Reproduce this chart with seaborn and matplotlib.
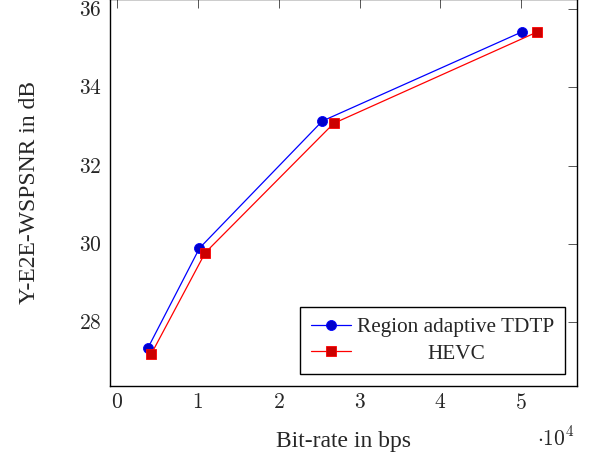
import pandas as pd
import matplotlib
matplotlib.use("Agg")
import matplotlib.pyplot as plt
import seaborn as sns

# values (bit-rate in bps, PSNR in dB)
tdtp_rate = [3830, 10200, 25400, 50100]
tdtp_psnr = [27.34, 29.89, 33.14, 35.42]
hevc_rate = [4250, 10900, 26800, 51900]
hevc_psnr = [27.19, 29.77, 33.08, 35.41]
series_names = ["Region adaptive TDTP", "HEVC"]
x_ticks = [0, 1, 2, 3, 4, 5]
y_ticks = [28, 30, 32, 34, 36]

sns.set_style("white")
plt.rcParams["font.family"] = ["Liberation Serif", "DejaVu Serif"]
plt.rcParams["mathtext.fontset"] = "cm"

df = pd.concat([
    pd.DataFrame({"rate": tdtp_rate, "psnr": tdtp_psnr, "method": series_names[0]}),
    pd.DataFrame({"rate": hevc_rate, "psnr": hevc_psnr, "method": series_names[1]}),
])
df["rate"] = df["rate"] / 1e4

fig = plt.figure(figsize=(5.89, 4.57), dpi=100)
ax = fig.add_axes([110 / 589, 1 - 386 / 457, 467 / 589, 387 / 457])

line_cols = {series_names[0]: "#0000ff", series_names[1]: "#ff0000"}
fill_cols = {series_names[0]: "#0000cc", series_names[1]: "#cc0000"}
sns.lineplot(data=df, x="rate", y="psnr", hue="method", style="method",
             hue_order=series_names, style_order=series_names,
             palette=line_cols, markers={series_names[0]: "o", series_names[1]: "s"},
             dashes=False, sort=False, legend=False, linewidth=0.9, ax=ax)

for line, name in zip(ax.lines, series_names):
    line.set_markerfacecolor(fill_cols[name])
    line.set_markeredgecolor(line_cols[name])
    line.set_markeredgewidth(0.6)
    line.set_markersize(7.2)

ax.set_xlim(-0.087, 5.69)
ax.set_ylim(26.365, 36.26)
ax.set_xticks(x_ticks)
ax.set_xticklabels([f"${v}$" for v in x_ticks])
ax.set_yticks(y_ticks)
ax.set_yticklabels([f"${v}$" for v in y_ticks])
ax.tick_params(which="both", direction="in", top=True, right=True,
               length=6.5, width=0.7, color="#555555", labelsize=15.5, pad=6)

for s in ax.spines.values():
    s.set_color("black")
    s.set_linewidth(1.0)

ax.set_xlabel("Bit-rate in bps", fontsize=17, labelpad=12)
ax.set_ylabel("Y-E2E-WSPSNR in dB", fontsize=17)
ax.yaxis.set_label_coords(-0.15, 0.5)
ax.text(0.995, -0.105, r"$\cdot10^{4}$", transform=ax.transAxes,
        ha="right", va="top", fontsize=15.5)

leg = ax.legend(handles=ax.lines[:2], labels=series_names, loc="lower right",
                fontsize=15.3, frameon=True, fancybox=False, framealpha=1,
                edgecolor="black", borderaxespad=0.55, borderpad=0.5,
                handlelength=1.9, handletextpad=0.3, labelspacing=0.3)
leg.get_frame().set_linewidth(1.0)

# centre the legend entries like pgfplots does
fig.canvas.draw()
rend = fig.canvas.get_renderer()
texts = leg.get_texts()
widths = [t.get_window_extent(rend).width for t in texts]
for t, w in zip(texts, widths):
    t.set_x((max(widths) - w) / 2)

fig.savefig("out.png", dpi=100)
